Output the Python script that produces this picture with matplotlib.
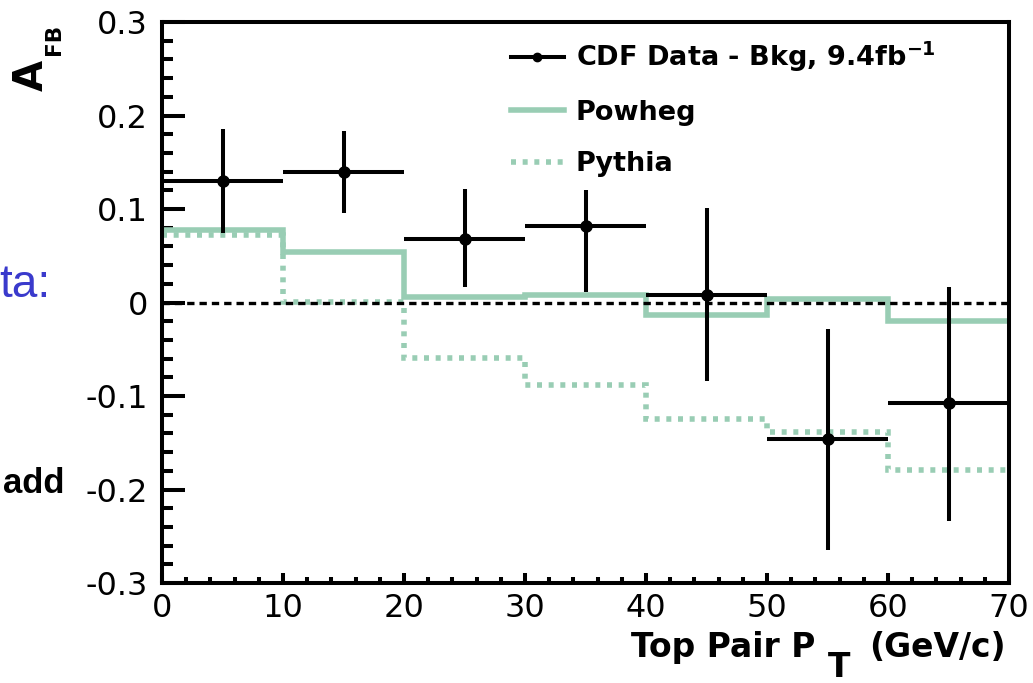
#!/usr/bin/env python3

import numpy as np
import matplotlib
matplotlib.use('Agg')
import matplotlib.pyplot as plt
from matplotlib.lines import Line2D

# Bin edges in top pair pT (GeV/c)
bin_edges = [0, 10, 20, 30, 40, 50, 60, 70]

# CDF data minus background, with (asymmetric) errors
data_afb = [0.130, 0.140, 0.068, 0.082, 0.008, -0.146, -0.108]
data_err_lo = [0.056, 0.044, 0.051, 0.071, 0.092, 0.119, 0.126]
data_err_hi = [0.056, 0.043, 0.053, 0.038, 0.093, 0.118, 0.125]

# Predictions
powheg_afb = [0.078, 0.0545, 0.006, 0.008, -0.0135, 0.004, -0.020]
pythia_afb = [0.072, 0.001, -0.059, -0.088, -0.125, -0.139, -0.179]

legend_labels = ['CDF Data - Bkg, 9.4fb$^{\\mathbf{-1}}$', 'Powheg', 'Pythia']

GREEN = '#99cdb4'
W, H = 1033, 683


def fx(px):
    return px / W


def fy(py):
    return 1 - py / H


def main():
    plt.rcParams['font.family'] = 'DejaVu Sans'
    plt.rcParams['mathtext.fontset'] = 'custom'
    plt.rcParams['mathtext.bf'] = 'DejaVu Sans:bold'
    plt.rcParams['mathtext.rm'] = 'DejaVu Sans:bold'

    fig = plt.figure(figsize=(W / 100, H / 100), dpi=100)
    ax = fig.add_axes([fx(162), fy(583), fx(1009) - fx(162), fy(22) - fy(583)])

    edges = np.array(bin_edges, dtype=float)
    centers = 0.5 * (edges[:-1] + edges[1:])
    half_w = 0.5 * np.diff(edges)

    # predictions as step histograms
    ax.stairs(powheg_afb, edges, baseline=None, color=GREEN, lw=4.0, zorder=2)
    ax.stairs(pythia_afb, edges, baseline=None, color=GREEN, lw=4.0,
              linestyle=(0, (0.9, 1.2)), zorder=2)

    # zero line
    ax.axhline(0, color='black', lw=2.4, linestyle=(0, (2.2, 1.5)), zorder=2.5)

    # data points
    ax.errorbar(centers, data_afb, xerr=half_w,
                yerr=[data_err_lo, data_err_hi],
                fmt='o', color='black', ms=8, elinewidth=2.9, capsize=0,
                zorder=3)

    ax.set_xlim(0, 70)
    ax.set_ylim(-0.3, 0.3)
    ax.set_xticks(np.arange(0, 71, 10))
    ax.set_xticks(np.arange(0, 71, 2), minor=True)
    ax.set_yticks(np.arange(-0.3, 0.31, 0.1))
    ax.set_yticks(np.arange(-0.3, 0.301, 0.02), minor=True)
    ax.set_yticklabels(['-0.3', '-0.2', '-0.1', '0', '0.1', '0.2', '0.3'])
    ax.set_xticklabels([str(v) for v in range(0, 71, 10)])

    ax.tick_params(axis='y', which='major', direction='in', length=16.5,
                   width=2.9, labelsize=23, pad=10, right=False)
    ax.tick_params(axis='y', which='minor', direction='in', length=8,
                   width=2.9, right=False)
    ax.tick_params(axis='x', which='major', direction='in', length=7.5,
                   width=2.9, labelsize=23, pad=7, top=False)
    ax.tick_params(axis='x', which='minor', direction='in', length=4,
                   width=2.9, top=False)
    for sp in ax.spines.values():
        sp.set_linewidth(2.9)

    # legend
    handles = [
        Line2D([], [], color='black', lw=2.9, marker='o', ms=6),
        Line2D([], [], color=GREEN, lw=4.0),
        Line2D([], [], color=GREEN, lw=4.0, linestyle=(0, (0.9, 1.2))),
    ]
    ax.legend(handles, legend_labels, loc='upper left',
              bbox_to_anchor=((511 - 162) / 847, (583 - 40) / 561),
              frameon=False, borderpad=0, borderaxespad=0,
              handlelength=1.95, handletextpad=0.45, labelspacing=0.94,
              prop={'weight': 'bold', 'size': 19.5})

    # axis titles, drawn in pieces so the subscripts sit like the original
    fig.text(fx(631), fy(657), 'Top Pair P', fontsize=23.8, fontweight='bold',
             ha='left', va='baseline')
    fig.text(fx(839), fy(677), 'T', fontsize=23.8, fontweight='bold',
             ha='center', va='baseline')
    fig.text(fx(1006), fy(657), '(GeV/c)', fontsize=23.8, fontweight='bold',
             ha='right', va='baseline')
    fig.text(fx(32), fy(75), 'A', fontsize=29, fontweight='bold',
             rotation=90, ha='center', va='center')
    fig.text(fx(54), fy(39.5), 'FB', fontsize=15.5, fontweight='bold',
             rotation=90, ha='center', va='center')

    # slide text left of the plot
    fig.text(fx(50), fy(297), 'ta:', fontsize=33, color='#3a3acc',
             family='Liberation Sans', ha='right', va='baseline')
    fig.text(fx(64), fy(493), 'add', fontsize=25, fontweight='bold',
             family='Liberation Sans', ha='right', va='baseline')

    fig.savefig('out.png', dpi=100)


if __name__ == '__main__':
    main()
